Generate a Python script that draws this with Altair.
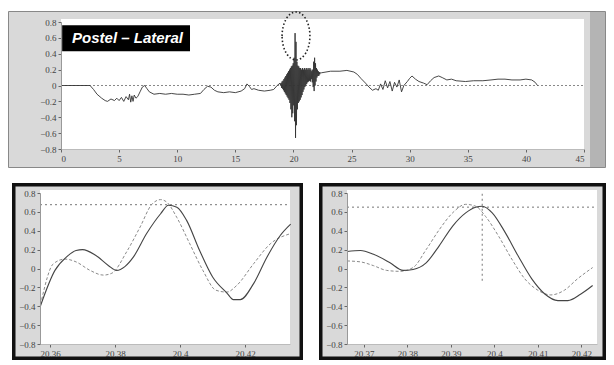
import altair as alt
import pandas as pd

# ---------------- top panel: Postel - Lateral trace ----------------
pre_x = [0, 2.5, 2.8, 3.1, 3.5, 3.8, 4.0, 4.3, 4.6, 4.8, 5.0, 5.2, 5.4, 5.6, 5.8, 5.9, 6.0, 6.1, 6.2, 6.3,
         6.45, 6.6, 6.8, 7.0, 7.2, 7.4, 7.6, 8.0, 8.5, 9.0, 9.5, 10.0, 10.5, 11.0, 11.5, 12.0, 12.3, 12.6, 12.9, 13.2,
         13.5, 14.0, 14.5, 15.0, 15.5, 15.8, 16.0, 16.2, 16.4, 16.6, 17.0, 17.5, 18.0, 18.3, 18.6, 18.85]
pre_y = [0, 0, -0.05, -0.11, -0.16, -0.19, -0.2, -0.17, -0.19, -0.16, -0.19, -0.15, -0.2, -0.14, -0.18, -0.11, -0.21, -0.13, -0.2, -0.12,
         -0.16, -0.14, -0.08, -0.02, 0.0, -0.04, -0.08, -0.11, -0.1, -0.11, -0.1, -0.11, -0.11, -0.12, -0.11, -0.1, -0.05, -0.01, -0.02, -0.06,
         -0.08, -0.09, -0.08, -0.09, -0.07, -0.04, 0.02, -0.01, -0.05, -0.04, -0.06, -0.07, -0.06, -0.05, 0.0, 0.03]

burst_start = 18.90
burst_step = 0.04
burst_y = [0.00, 0.03, -0.03, 0.05, -0.04, 0.06, -0.06, 0.08, -0.08, 0.10,
           -0.10, 0.12, -0.12, 0.14, -0.14, 0.16, -0.16, 0.18, -0.18, 0.20,
           -0.22, 0.22, -0.30, 0.24, -0.40, 0.25, -0.35, 0.28, -0.25, 0.35,
           -0.45, 0.66, -0.66, 0.55, -0.50, 0.30, -0.30, 0.25, -0.22, 0.24,
           -0.20, 0.22, -0.18, 0.22, -0.15, 0.20, -0.12, 0.22, -0.08, 0.20,
           -0.05, 0.22, -0.02, 0.20, 0.00, 0.22, 0.02, 0.20, 0.04, 0.22,
           0.05, 0.20, 0.06, 0.22, 0.05, 0.20, 0.08, 0.18, 0.04, 0.20,
           -0.02, 0.30, -0.07, 0.35, 0.00, 0.28, 0.05, 0.22, 0.10, 0.20,
           0.12, 0.18, 0.12, 0.17, 0.14, 0.16]

post_x = [22.4, 22.8, 23.2, 24.0, 24.6, 25.2, 25.5, 25.8, 26.2, 26.5, 26.8, 27.1, 27.3, 27.5, 27.7, 27.9, 28.1, 28.3, 28.5, 28.7,
          28.9, 29.1, 29.3, 29.5, 29.8, 30.0, 30.2, 30.5, 30.8, 31.2, 31.5, 31.8, 32.1, 32.5, 32.8, 33.2, 33.6, 34.0, 34.8, 35.5,
          36.3, 37.0, 37.6, 38.2, 38.8, 39.5, 40.0, 40.5, 40.8, 41.0]
post_y = [0.16, 0.17, 0.18, 0.18, 0.19, 0.17, 0.14, 0.09, 0.03, -0.02, -0.06, -0.04, -0.06, 0.02, -0.05, 0.06, -0.03, 0.05, -0.07, 0.04,
          -0.02, 0.07, -0.08, 0.0, 0.05, 0.09, 0.12, 0.08, 0.05, 0.03, 0.01, 0.06, 0.1, 0.12, 0.1, 0.07, 0.08, 0.06, 0.05, 0.06,
          0.06, 0.07, 0.08, 0.08, 0.07, 0.07, 0.08, 0.07, 0.04, 0.0]

top_x_ticks = [0, 5, 10, 15, 20, 25, 30, 35, 40, 45]
y_ticks = [-0.8, -0.6, -0.4, -0.2, 0, 0.2, 0.4, 0.6, 0.8]
title_text = "Postel \u2013 Lateral"

# ---------------- bottom-left zoom ----------------
bl_solid_x = [20.357, 20.3615, 20.365, 20.368, 20.370, 20.374, 20.378, 20.3805, 20.383, 20.3856, 20.3897, 20.394,
              20.3964, 20.399, 20.402, 20.406, 20.410, 20.4144, 20.4164, 20.4185, 20.4226, 20.4267, 20.4308, 20.434]
bl_solid_y = [-0.40, -0.02, 0.12, 0.19, 0.20, 0.14, 0.03, -0.02, 0.02, 0.12, 0.37, 0.58,
              0.67, 0.65, 0.51, 0.19, -0.09, -0.26, -0.33, -0.33, -0.16, 0.12, 0.35, 0.47]
bl_dash_x = [20.3574, 20.361, 20.3646, 20.368, 20.3723, 20.3764, 20.379, 20.3836, 20.3877, 20.3913, 20.394,
             20.396, 20.399, 20.403, 20.407, 20.411, 20.4144, 20.4174, 20.4226, 20.4277, 20.434]
bl_dash_y = [-0.33, 0.05, 0.10, 0.07, -0.02, -0.07, -0.05, 0.18, 0.44, 0.68, 0.73,
             0.70, 0.54, 0.26, -0.02, -0.23, -0.25, -0.18, 0.05, 0.26, 0.37]
bl_ref_y = 0.676
bl_x_ticks = [20.36, 20.38, 20.40, 20.42]
bl_domain = [20.3569, 20.4338]

# ---------------- bottom-right zoom ----------------
br_solid_x = [20.3661, 20.3692, 20.3722, 20.376, 20.379, 20.3813, 20.3843, 20.3873, 20.3904, 20.3934, 20.3957,
              20.3972, 20.3995, 20.4025, 20.4055, 20.4086, 20.4116, 20.4146, 20.4169, 20.4199, 20.4226]
br_solid_y = [0.18, 0.19, 0.15, 0.06, -0.02, -0.01, 0.06, 0.24, 0.45, 0.59, 0.65,
              0.66, 0.59, 0.38, 0.13, -0.11, -0.27, -0.34, -0.34, -0.27, -0.18]
br_dash_x = [20.3661, 20.3692, 20.3722, 20.3752, 20.3783, 20.3813, 20.3843, 20.3873, 20.3904, 20.3934, 20.3957,
             20.398, 20.401, 20.404, 20.407, 20.41, 20.413, 20.4161, 20.4191, 20.4226]
br_dash_y = [0.08, 0.07, 0.03, -0.02, -0.03, 0.01, 0.20, 0.41, 0.59, 0.68, 0.66,
             0.55, 0.34, 0.10, -0.11, -0.23, -0.28, -0.23, -0.11, 0.01]
br_ref_y = 0.65
br_ref_x = 20.3972
br_ref_x_from = -0.13
br_x_ticks = [20.37, 20.38, 20.39, 20.40, 20.41, 20.42]
br_domain = [20.3661, 20.4236]

# ---------------- build ----------------
one = pd.DataFrame({"a": [0]})
LBL_FONT = "Liberation Serif"
STIPPLE = "#d9d9d9"


def box(x1, x2, y1, y2, fill, stroke=None, sw=0):
    kw = dict(fill=fill)
    if stroke:
        kw.update(stroke=stroke, strokeWidth=sw)
    return alt.Chart(one).mark_rect(**kw).encode(
        x=alt.value(x1), x2=alt.value(x2), y=alt.value(y1), y2=alt.value(y2))


def yaxis(off):
    return alt.Axis(values=y_ticks, format=".1~f", title=None, grid=False, zindex=1, offset=-off,
                    minExtent=0, labelFont=LBL_FONT, labelFontSize=9, labelColor="#444",
                    tickColor="#666", tickSize=3, domainColor="#999", labelPadding=2)


def xaxis(vals, fmt, off):
    return alt.Axis(values=vals, format=fmt, title=None, grid=False, zindex=1, offset=-off,
                    minExtent=0, labelFont=LBL_FONT, labelFontSize=9, labelColor="#444",
                    tickColor="#666", tickSize=3, domainColor="#bbb", labelPadding=2)


# top trace table
rows = []
for x, y in zip(pre_x, pre_y):
    rows.append((x, y))
for i, y in enumerate(burst_y):
    rows.append((round(burst_start + i * burst_step, 3), y))
for x, y in zip(post_x, post_y):
    rows.append((x, y))
top_df = pd.DataFrame(rows, columns=["t", "v"])
top_df["i"] = range(len(top_df))

# top view geometry (pixels inside the view)
TVW, TVH = 598, 157
TPX0, TPX1, TPY0, TPY1 = 53, 576, 11, 138
tx = alt.X("t:Q", scale=alt.Scale(domain=[0, 45], nice=False, range=[TPX0, TPX1]),
           axis=xaxis(top_x_ticks, "d", TVH - TPY1))
ty = alt.Y("v:Q", scale=alt.Scale(domain=[-0.8, 0.8], nice=False, range=[TPY1, TPY0]), axis=yaxis(TPX0))

top_frame = box(0.5, TVW - 0.5, 0.5, TVH - 0.5, STIPPLE, "#888", 1)
top_band = box(582, TVW - 1, 1, TVH - 1, "#b4b4b4")
top_white = box(TPX0, TPX1, TPY0 - 3, TPY1, "white")
zero = alt.Chart(pd.DataFrame({"t": [0, 45], "v": [0, 0]})).mark_line(
    color="#888", strokeWidth=1, strokeDash=[2, 2]).encode(x=tx, y=ty)
trace = alt.Chart(top_df).mark_line(color="#333", strokeWidth=0.9).encode(x=tx, y=ty, order="i:Q")
label_box = alt.Chart(pd.DataFrame({"t": [0.1], "t2": [11.1], "v": [0.76], "v2": [0.43]})).mark_rect(
    color="black").encode(x=tx, x2="t2:Q", y=ty, y2="v2:Q")
label_txt = alt.Chart(pd.DataFrame({"t": [0.95], "v": [0.595], "s": [title_text]})).mark_text(
    align="left", baseline="middle", font="Liberation Sans", fontSize=15, fontWeight="bold",
    fontStyle="italic", color="white").encode(x=tx, y=ty, text="s:N")
ellipse = alt.Chart(pd.DataFrame({"t": [20.22], "v": [0.624]})).mark_point(
    shape="M -0.58 0 A 0.58 1 0 1 1 0.58 0 A 0.58 1 0 1 1 -0.58 0 Z",
    size=2304, filled=False, stroke="#222", strokeWidth=1.6, strokeDash=[1.5, 2.2], opacity=1).encode(x=tx, y=ty)

top = alt.layer(top_frame, top_band, top_white, zero, trace, label_box, label_txt, ellipse).properties(
    width=TVW, height=TVH)

BVH = 177
BPY0, BPY1 = 10, 161


def zoom_panel(vw, fx0, px0, px1, domain, ticks, sx, sy, dx, dy, ref_y, vline=None):
    bx = alt.X("t:Q", scale=alt.Scale(domain=domain, nice=False, zero=False, range=[px0, px1]),
               axis=xaxis(ticks, ".2~f", BVH - BPY1))
    by = alt.Y("v:Q", scale=alt.Scale(domain=[-0.8, 0.8], nice=False, range=[BPY1, BPY0]), axis=yaxis(px0))
    frame = box(fx0 + 1.75, vw - 1.75, 1.75, BVH - 1.75, STIPPLE, "#111", 3.5)
    white = box(px0, px1, BPY0 - 3, BPY1, "white")
    href = alt.Chart(pd.DataFrame({"t": domain, "v": [ref_y, ref_y]})).mark_line(
        color="#777", strokeWidth=1, strokeDash=[2, 3]).encode(x=bx, y=by)
    layers = [frame, white, href]
    if vline is not None:
        vref = alt.Chart(pd.DataFrame({"t": [vline[0], vline[0]], "v": [vline[1], 0.8]})).mark_line(
            color="#777", strokeWidth=1, strokeDash=[2, 3]).encode(x=bx, y=by)
        layers.append(vref)
    d_df = pd.DataFrame({"t": dx, "v": dy})
    s_df = pd.DataFrame({"t": sx, "v": sy})
    dash = alt.Chart(d_df).mark_line(color="#8a8a8a", strokeWidth=1, strokeDash=[3, 2],
                                     interpolate="monotone").encode(x=bx, y=by)
    solid = alt.Chart(s_df).mark_line(color="#444", strokeWidth=1.1,
                                      interpolate="monotone").encode(x=bx, y=by)
    layers += [dash, solid]
    return alt.layer(*layers).properties(width=vw, height=BVH)


bl = zoom_panel(295, 4, 32, 282, bl_domain, bl_x_ticks, bl_solid_x, bl_solid_y, bl_dash_x, bl_dash_y, bl_ref_y)
br = zoom_panel(287, 0, 28, 278, br_domain, br_x_ticks, br_solid_x, br_solid_y, br_dash_x, br_dash_y, br_ref_y,
                vline=(br_ref_x, br_ref_x_from))

chart = alt.vconcat(top, alt.hconcat(bl, br, spacing=16), spacing=15).properties(
    padding=0,
    background="white",
).configure_view(stroke=None)

chart.save("out.html", embed_options={"renderer": "svg", "actions": False})
